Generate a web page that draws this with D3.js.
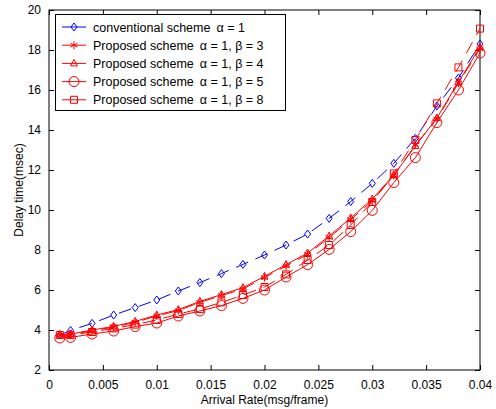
<!DOCTYPE html>
<html>
<head>
<meta charset="utf-8">
<script src="https://cdn.jsdelivr.net/npm/d3@7/dist/d3.min.js"></script>
<style>
  html, body { margin: 0; padding: 0; background: #fff; }
  svg { display: block; font-family: "Liberation Sans", Arial, sans-serif; }
</style>
</head>
<body>
<div id="chart"></div>
<script>
// Arrival rate (msg/frame) sample points
const arrivalRate = [0.001, 0.002, 0.004, 0.006, 0.008, 0.010, 0.012, 0.014, 0.016, 0.018, 0.020,
                     0.022, 0.024, 0.026, 0.028, 0.030, 0.032, 0.034, 0.036, 0.038, 0.040];

// Delay time (msec) for each scheme
const conventional = [3.75, 3.98, 4.33, 4.75, 5.12, 5.5, 5.95, 6.37, 6.82, 7.28, 7.75,
                      8.25, 8.8, 9.58, 10.42, 11.33, 12.33, 13.58, 15.2, 16.6, 18.3];
const proposedB3 = [3.74, 3.76, 3.97, 4.14, 4.38, 4.7, 4.97, 5.38, 5.72, 6.05, 6.62,
                    7.2, 7.78, 8.62, 9.52, 10.45, 11.72, 13.25, 14.55, 16.35, 18.05];
const proposedB4 = [3.78, 3.8, 4.0, 4.18, 4.43, 4.75, 5.02, 5.43, 5.77, 6.12, 6.68,
                    7.27, 7.85, 8.7, 9.6, 10.55, 11.75, 13.2, 14.6, 16.4, 18.15];
const proposedB5 = [3.6, 3.63, 3.8, 3.95, 4.17, 4.35, 4.7, 4.95, 5.22, 5.58, 6.0,
                    6.65, 7.27, 8.03, 8.92, 9.98, 11.37, 12.62, 14.37, 16.0, 17.85];
const proposedB8 = [3.75, 3.75, 3.9, 4.08, 4.27, 4.5, 4.8, 5.05, 5.38, 5.75, 6.15,
                    6.78, 7.5, 8.25, 9.25, 10.4, 11.83, 13.5, 15.33, 17.13, 19.07];

// Axis ticks
const xTicks = [0, 0.005, 0.01, 0.015, 0.02, 0.025, 0.03, 0.035, 0.04];
const xTickLabels = ["0", "0.005", "0.01", "0.015", "0.02", "0.025", "0.03", "0.035", "0.04"];
const yTicks = [2, 4, 6, 8, 10, 12, 14, 16, 18, 20];

const seriesNames = ["conventional scheme", "Proposed scheme", "Proposed scheme", "Proposed scheme", "Proposed scheme"];
const seriesParams = ["\u03B1 = 1", "\u03B1 = 1, \u03B2 = 3", "\u03B1 = 1, \u03B2 = 4", "\u03B1 = 1, \u03B2 = 5", "\u03B1 = 1, \u03B2 = 8"];

const series = [
  { values: conventional, color: "#0000ff", dash: "13,8", marker: "diamond" },
  { values: proposedB3, color: "#ff0000", dash: "13,8", marker: "star" },
  { values: proposedB4, color: "#ff0000", dash: null, marker: "triangle" },
  { values: proposedB5, color: "#ff0000", dash: null, marker: "circle" },
  { values: proposedB8, color: "#ff0000", dash: "13,8", marker: "square" }
];

const W = 496, H = 409;
const m = { left: 49, right: 16, top: 10, bottom: 39 };

const svg = d3.select("#chart").append("svg").attr("width", W).attr("height", H);

const x = d3.scaleLinear().domain([0, 0.04]).range([m.left, W - m.right]);
const y = d3.scaleLinear().domain([2, 20]).range([H - m.bottom, m.top]);

// Tick marks point inward on all four sides
const tickLen = 5;
const gx = svg.append("g").attr("transform", `translate(0,${y(2)})`)
  .call(d3.axisBottom(x).tickValues(xTicks).tickFormat((d, i) => xTickLabels[i])
        .tickSizeInner(-tickLen).tickSizeOuter(0).tickPadding(10));
const gxTop = svg.append("g").attr("transform", `translate(0,${y(20)})`)
  .call(d3.axisTop(x).tickValues(xTicks).tickFormat("").tickSizeInner(-tickLen).tickSizeOuter(0));
const gy = svg.append("g").attr("transform", `translate(${x(0)},0)`)
  .call(d3.axisLeft(y).tickValues(yTicks).tickFormat(d3.format("d"))
        .tickSizeInner(-tickLen).tickSizeOuter(0).tickPadding(8));
const gyRight = svg.append("g").attr("transform", `translate(${x(0.04)},0)`)
  .call(d3.axisRight(y).tickValues(yTicks).tickFormat("").tickSizeInner(-tickLen).tickSizeOuter(0));

[gx, gxTop, gy, gyRight].forEach(g => {
  g.select(".domain").remove();
  g.selectAll(".tick line").attr("stroke", "#000").attr("stroke-width", 1);
  g.selectAll(".tick text").attr("fill", "#000").style("font-size", "12px")
    .style("font-family", "Liberation Sans, Arial, sans-serif");
});

// Plot frame
svg.append("rect")
  .attr("x", x(0)).attr("y", y(20))
  .attr("width", x(0.04) - x(0)).attr("height", y(2) - y(20))
  .attr("fill", "none").attr("stroke", "#000").attr("stroke-width", 1);

// Marker shapes drawn as paths centred on (0,0)
function markerPath(type) {
  switch (type) {
    case "diamond": return "M0,-4L3,0L0,4L-3,0Z";
    case "triangle": return "M0,-4L3.5,2.5L-3.5,2.5Z";
    case "square": return "M-3.5,-3.5H3.5V3.5H-3.5Z";
    case "circle": return d3.symbol(d3.symbolCircle, Math.PI * 25)();
    case "star": return "M0,-4V4M-3.5,-2L3.5,2M-3.5,2L3.5,-2";
  }
}

const line = d3.line().x((d, i) => x(arrivalRate[i])).y(d => y(d));

const plot = svg.append("g");
series.forEach(s => {
  plot.append("path")
    .datum(s.values)
    .attr("d", line)
    .attr("fill", "none")
    .attr("stroke", s.color)
    .attr("stroke-width", 1)
    .attr("stroke-dasharray", s.dash);
  plot.selectAll(null)
    .data(s.values)
    .enter().append("path")
    .attr("transform", (d, i) => `translate(${x(arrivalRate[i])},${y(d)})`)
    .attr("d", markerPath(s.marker))
    .attr("fill", "none")
    .attr("stroke", s.color)
    .attr("stroke-width", 1);
});

// Legend
const lg = svg.append("g");
lg.append("rect").attr("x", 55.5).attr("y", 14.5).attr("width", 230).attr("height", 96)
  .attr("fill", "#fff").attr("stroke", "#000").attr("stroke-width", 1);
series.forEach((s, i) => {
  const ry = 27 + i * 18.2;
  lg.append("line").attr("x1", 62).attr("x2", 86).attr("y1", ry).attr("y2", ry)
    .attr("stroke", s.color).attr("stroke-width", 1);
  lg.append("path").attr("transform", `translate(74,${ry})`).attr("d", markerPath(s.marker))
    .attr("fill", "none").attr("stroke", s.color).attr("stroke-width", 1);
  const t = lg.append("text").attr("x", 93).attr("y", ry + 4.5)
    .style("font-size", "12.5px").attr("fill", "#000");
  t.append("tspan").text(seriesNames[i]);
  t.append("tspan").attr("dx", 6).text(seriesParams[i]);
});

// Axis titles
svg.append("text")
  .attr("x", (x(0) + x(0.04)) / 2).attr("y", 404)
  .attr("text-anchor", "middle").style("font-size", "12px")
  .text("Arrival Rate(msg/frame)");
svg.append("text")
  .attr("transform", `translate(23,${(y(2) + y(20)) / 2}) rotate(-90)`)
  .attr("text-anchor", "middle").style("font-size", "12px")
  .text("Delay time(msec)");
</script>
</body>
</html>
